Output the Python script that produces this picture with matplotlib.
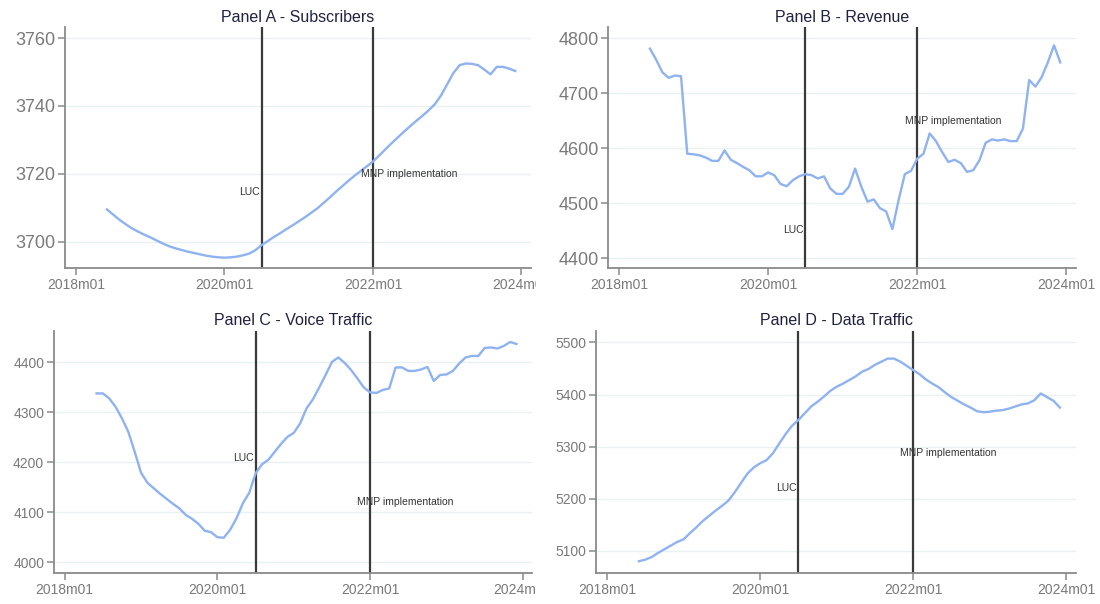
import matplotlib

matplotlib.use("Agg")

import matplotlib.pyplot as plt
from matplotlib.transforms import Bbox, TransformedBbox

plt.rcParams["font.family"] = ["Liberation Sans", "DejaVu Sans"]

# months counted from 2018m01 = 0; series run 2018m06 .. 2023m12
months = list(range(5, 72))
tick_months = [0, 24, 48, 72]
tick_labels = ["2018m01", "2020m01", "2022m01", "2024m01"]
luc_month = 30   # 2020m07
mnp_month = 48   # 2022m01

subscribers = [
    3709.5, 3708.0, 3706.5, 3705.2, 3704.0, 3703.0, 3702.1, 3701.3, 3700.4, 3699.5,
    3698.7, 3698.1, 3697.6, 3697.1, 3696.7, 3696.3, 3695.9, 3695.6, 3695.4, 3695.3,
    3695.4, 3695.6, 3696.0, 3696.5, 3697.5, 3699.0, 3700.2, 3701.4, 3702.5, 3703.7,
    3704.8, 3706.0, 3707.2, 3708.5, 3709.8, 3711.4, 3713.0, 3714.7, 3716.3, 3717.9,
    3719.4, 3720.8, 3722.2, 3723.6, 3725.4, 3727.2, 3729.0, 3730.7, 3732.4, 3734.0,
    3735.6, 3737.1, 3738.7, 3740.5, 3743.1, 3746.4, 3749.7, 3752.0, 3752.5, 3752.4,
    3752.0, 3750.7, 3749.3, 3751.5, 3751.5, 3751.0, 3750.3,
]
revenue = [
    4781, 4761, 4738, 4728, 4732, 4731, 4590, 4589, 4587, 4583,
    4577, 4577, 4596, 4579, 4573, 4566, 4560, 4549, 4549, 4556,
    4551, 4535, 4531, 4542, 4549, 4553, 4551, 4545, 4549, 4527,
    4517, 4517, 4530, 4563, 4530, 4503, 4507, 4491, 4485, 4453,
    4506, 4553, 4559, 4581, 4590, 4627, 4613, 4593, 4575, 4579,
    4573, 4557, 4560, 4578, 4610, 4616, 4614, 4616, 4613, 4613,
    4636, 4724, 4712, 4729, 4756, 4787, 4756,
]
voice = [
    4338, 4338, 4328, 4311, 4288, 4261, 4221, 4179, 4159, 4148,
    4137, 4127, 4117, 4108, 4095, 4087, 4077, 4063, 4060, 4050,
    4049, 4065, 4088, 4118, 4139, 4178, 4196, 4205, 4221, 4237,
    4251, 4259, 4278, 4308, 4326, 4350, 4375, 4401, 4410, 4399,
    4385, 4368, 4350, 4340, 4339, 4345, 4348, 4390, 4390, 4383,
    4383, 4386, 4391, 4363, 4375, 4376, 4383, 4398, 4410, 4413,
    4413, 4429, 4430, 4428, 4433, 4441, 4437,
]
data_traffic = [
    5080, 5083, 5088, 5096, 5103, 5110, 5117, 5122, 5134, 5145,
    5157, 5167, 5177, 5186, 5196, 5212, 5230, 5248, 5260, 5268,
    5274, 5287, 5306, 5324, 5340, 5351, 5364, 5377, 5386, 5396,
    5407, 5415, 5421, 5428, 5435, 5444, 5449, 5457, 5463, 5469,
    5469, 5463, 5455, 5447, 5439, 5429, 5421, 5414, 5404, 5395,
    5388, 5381, 5375, 5368, 5366, 5367, 5369, 5370, 5373, 5377,
    5381, 5383, 5389, 5402, 5395, 5388, 5375,
]

panels = [
    dict(title="Panel A - Subscribers", values=subscribers, rect=[0.0595, 0.556, 0.423, 0.399],
         ylim=(3692.2, 3763.2), yticks=[3700, 3720, 3740, 3760], ysize=13,
         luc_y=3714.7, mnp_y=3720.0, clip=True),
    dict(title="Panel B - Revenue", values=revenue, rect=[0.553, 0.556, 0.425, 0.399],
         ylim=(4382, 4820), yticks=[4400, 4500, 4600, 4700, 4800], ysize=13,
         luc_y=4451, mnp_y=4650, clip=False),
    dict(title="Panel C - Voice Traffic", values=voice, rect=[0.049, 0.051, 0.435, 0.401],
         ylim=(3978, 4463), yticks=[4000, 4100, 4200, 4300, 4400], ysize=10,
         luc_y=4209, mnp_y=4120, clip=True),
    dict(title="Panel D - Data Traffic", values=data_traffic, rect=[0.542, 0.051, 0.436, 0.401],
         ylim=(5057, 5522), yticks=[5100, 5200, 5300, 5400, 5500], ysize=10,
         luc_y=5220, mnp_y=5288, clip=False),
]

line_color = "#8fb2f0"
vline_color = "#3a3a3a"
spine_color = "#8a8a8a"
label_color = "#7a7a7a"
grid_color = "#e9f1f3"

fig = plt.figure(figsize=(11, 6.04), dpi=100)
fig.patch.set_facecolor("white")

for p in panels:
    ax = fig.add_axes(p["rect"])
    ax.plot(months, p["values"], color=line_color, linewidth=1.7, zorder=3)
    ax.axvline(luc_month, color=vline_color, linewidth=1.6, zorder=2)
    ax.axvline(mnp_month, color=vline_color, linewidth=1.6, zorder=2)
    ax.text(luc_month - 0.3, p["luc_y"], "LUC", ha="right", va="center",
            fontsize=7.5, color="#333333", zorder=4)
    ax.text(mnp_month - 2.0, p["mnp_y"], "MNP implementation", ha="left", va="center",
            fontsize=7.5, color="#333333", zorder=4)

    ax.set_xlim(-1.7, 73.5)
    ax.set_ylim(*p["ylim"])
    ax.set_xticks(tick_months)
    ax.set_xticklabels(tick_labels)
    ax.set_yticks(p["yticks"])
    ax.grid(axis="y", color=grid_color, linewidth=1.0, zorder=0)
    ax.set_axisbelow(True)

    for side in ("top", "right"):
        ax.spines[side].set_visible(False)
    for side in ("left", "bottom"):
        ax.spines[side].set_color(spine_color)
        ax.spines[side].set_linewidth(1.3)
    ax.tick_params(axis="x", direction="out", length=5, width=1.1, color=spine_color,
                   labelsize=10, labelcolor=label_color, pad=2)
    ax.tick_params(axis="y", direction="out", length=5, width=1.1, color=spine_color,
                   labelsize=p["ysize"], labelcolor=label_color, pad=2)
    ax.set_title(p["title"], fontsize=11.5, color="#1f2240", pad=4)

    if p["clip"]:
        # the left panels are cut off at their right edge in the original
        box = TransformedBbox(Bbox([[0.0, 0.0], [0.487, 1.0]]), fig.transFigure)
        for lbl in ax.get_xticklabels():
            lbl.set_clip_on(True)
            lbl.set_clip_box(box)

fig.savefig("out.png", dpi=100)
